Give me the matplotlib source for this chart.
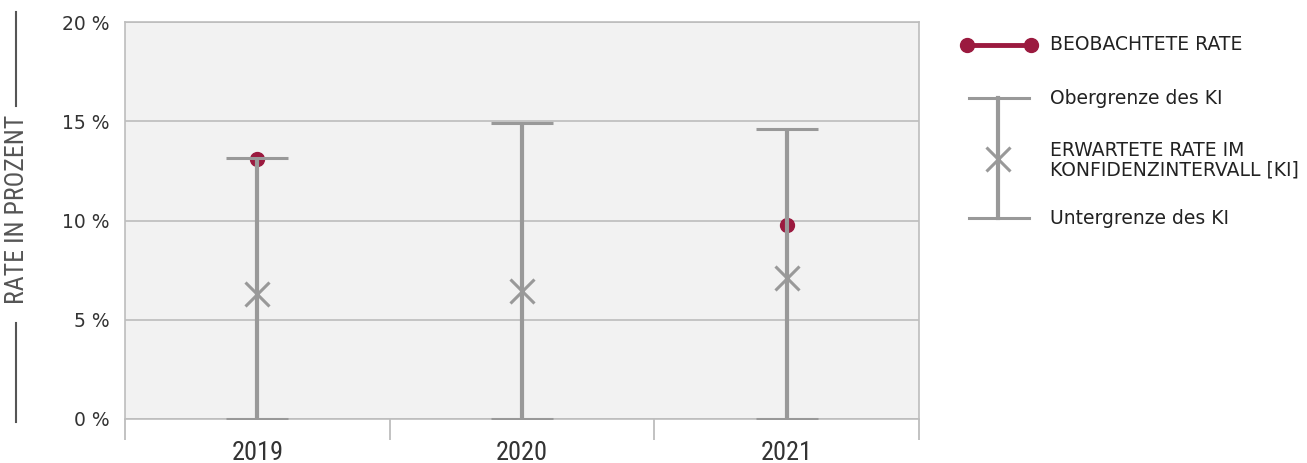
import matplotlib
matplotlib.use("Agg")
import matplotlib.pyplot as plt
from matplotlib.lines import Line2D

# values (percent)
YEARS = ["2019", "2020", "2021"]
OBSERVED = [13.1, None, 9.75]
EXPECTED = [6.3, 6.45, 7.1]
CI_UPPER = [13.15, 14.9, 14.6]
CI_LOWER = [0.0, 0.0, 0.0]
Y_TICKS = [0, 5, 10, 15, 20]

RED = "#9b1a3f"
GREY = "#999999"
GRID = "#bdbdbd"
BG = "#f2f2f2"

plt.rcParams["font.family"] = ["DejaVu Sans"]
NARROW = ["Roboto Condensed", "Archivo Narrow", "Barlow Condensed", "DejaVu Sans"]

fig = plt.figure(figsize=(13.07, 4.63), dpi=100)
W, H = 1307, 463
ax = fig.add_axes([125 / W, 1 - 419 / H, (919 - 125) / W, (419 - 22) / H])
ax.set_facecolor(BG)

x = list(range(len(YEARS)))
for xi, lo, hi, ex in zip(x, CI_LOWER, CI_UPPER, EXPECTED):
    ax.errorbar([xi], [ex], yerr=[[ex - lo], [hi - ex]], fmt="none", ecolor=GREY,
                elinewidth=3, capsize=22, capthick=2.2, zorder=3)
ax.plot(x, EXPECTED, linestyle="none", marker="x", markersize=17, markeredgewidth=2.2,
        color=GREY, zorder=4)
obs_x = [xi for xi, v in zip(x, OBSERVED) if v is not None]
obs_y = [v for v in OBSERVED if v is not None]
ax.plot(obs_x, obs_y, linestyle="none", marker="o", markersize=10, color=RED, zorder=2)

ax.set_xlim(-0.5, len(YEARS) - 0.5)
ax.set_ylim(0, 20)
ax.set_yticks(Y_TICKS)
ax.set_yticklabels([f"{t} %" for t in Y_TICKS], fontsize=13.5, color="#333333")
ax.tick_params(axis="y", length=0, pad=11)
ax.grid(axis="y", color=GRID, linewidth=1.2, zorder=0)
ax.set_axisbelow(True)

ax.set_xticks(x)
ax.set_xticklabels(YEARS, fontsize=19, color="#333333", family=NARROW)
ax.tick_params(axis="x", which="major", length=0, pad=16)
ax.set_xticks([i - 0.5 for i in range(len(YEARS) + 1)], minor=True)
ax.tick_params(axis="x", which="minor", length=15, width=1.3, color=GRID)
for s in ax.spines.values():
    s.set_color(GRID)
    s.set_linewidth(1.2)

# y axis title with rules above and below
fig.text(17 / W, 1 - 209 / H, "RATE IN PROZENT", rotation=90, ha="center", va="center",
         fontsize=18.6, color="#555555", family=NARROW)
fig.add_artist(Line2D([16 / W, 16 / W], [1 - 12 / H, 1 - 106 / H], color="#555555", lw=1.5))
fig.add_artist(Line2D([16 / W, 16 / W], [1 - 323 / H, 1 - 422 / H], color="#555555", lw=1.5))

# legend drawn by hand to match the reference glyphs
lg = fig.add_axes([0, 0, 1, 1])
lg.set_xlim(0, W)
lg.set_ylim(H, 0)
lg.axis("off")
lg.plot([967, 1031], [45, 45], color=RED, lw=3.5, marker="o", markersize=10)
lg.plot([998, 998], [98, 218], color=GREY, lw=3)
lg.plot([969, 1029], [98, 98], color=GREY, lw=2.2)
lg.plot([969, 1029], [218, 218], color=GREY, lw=2.2)
lg.plot([998], [159], marker="x", markersize=17, markeredgewidth=2.2, color=GREY)
txt = dict(fontsize=13.5, color="#222222", va="center", ha="left")
lg.text(1050, 45, "BEOBACHTETE RATE", **txt)
lg.text(1050, 99, "Obergrenze des KI", **txt)
lg.text(1050, 160, "ERWARTETE RATE IM\nKONFIDENZINTERVALL [KI]", linespacing=1.05, **txt)
lg.text(1050, 218, "Untergrenze des KI", **txt)

fig.savefig("out.png", dpi=100)
